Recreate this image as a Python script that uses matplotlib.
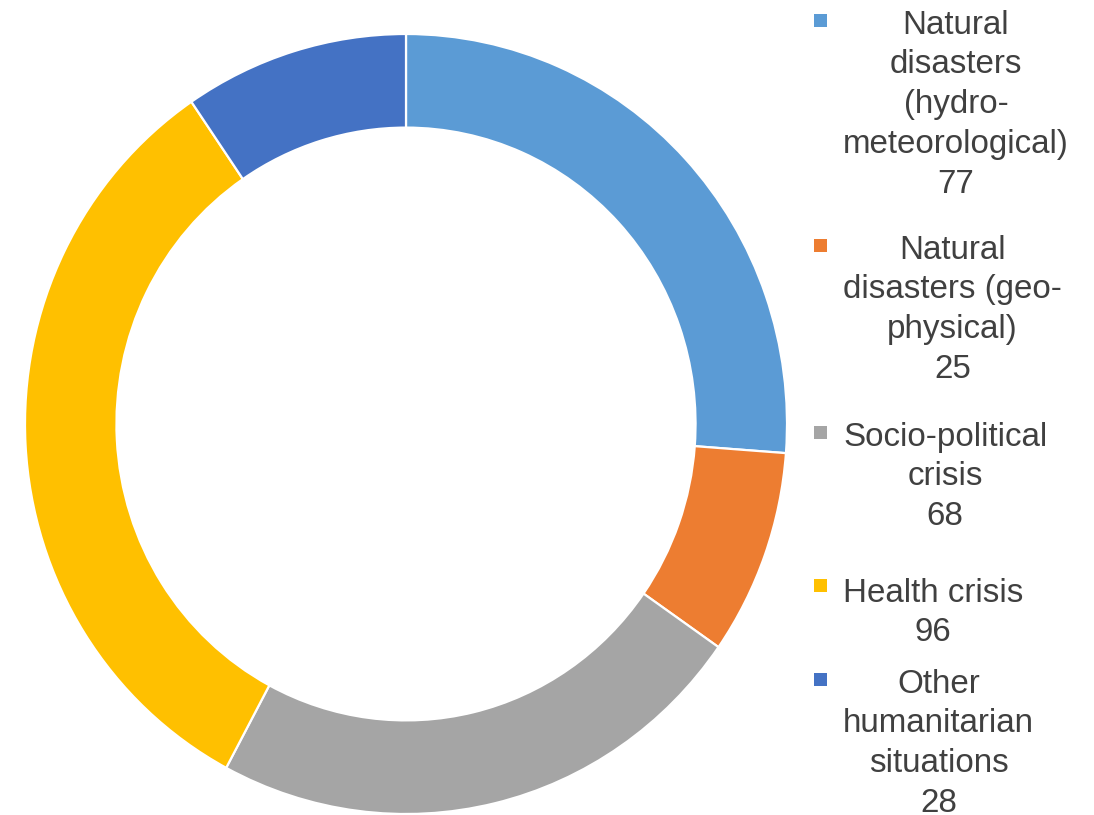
import matplotlib
matplotlib.use("Agg")
import matplotlib.pyplot as plt

categories = ["Natural\ndisasters\n(hydro-\nmeteorological)",
              "Natural\ndisasters (geo-\nphysical)",
              "Socio-political\ncrisis",
              "Health crisis",
              "Other\nhumanitarian\nsituations"]
values = [77, 25, 68, 96, 28]
colors = ["#5B9BD5", "#ED7D31", "#A5A5A5", "#FFC000", "#4472C4"]

W, H = 1094, 815
fig = plt.figure(figsize=(W / 100, H / 100), dpi=100)
fig.patch.set_facecolor("white")

# donut axes (slightly elliptical like the reference)
x0, x1, ytop, ybot = 25, 787, 34, 814
ax = fig.add_axes([x0 / W, (H - ybot) / H, (x1 - x0) / W, (ybot - ytop) / H])
ax.pie(values, colors=colors, startangle=90, counterclock=False,
       radius=1.0, wedgeprops=dict(width=0.24, edgecolor="white", linewidth=1.6))
ax.set_aspect("auto")
ax.set_xlim(-1, 1)
ax.set_ylim(-1, 1)
ax.axis("off")

# legend drawn manually
lax = fig.add_axes([0, 0, 1, 1])
lax.set_xlim(0, W)
lax.set_ylim(H, 0)
lax.axis("off")

first_line_y = [22, 247, 434, 590, 681]
marker_y = [20, 245, 432, 585, 679]
text_color = "#404040"
fs = 23.9
for lab, val, col, ty, my in zip(categories, values, colors, first_line_y, marker_y):
    lax.add_patch(plt.Rectangle((814, my - 6.5), 13, 13, color=col, lw=0))
    lines = lab.split("\n") + [str(val)]
    txt = "\n".join(lines)
    lax.text(843, ty - 0.5 * 33.2 * 0.75, txt, ha="left", va="top",
             multialignment="center", fontsize=fs, color=text_color,
             family="Liberation Sans", linespacing=1.37)

fig.savefig("out.png", dpi=100)
